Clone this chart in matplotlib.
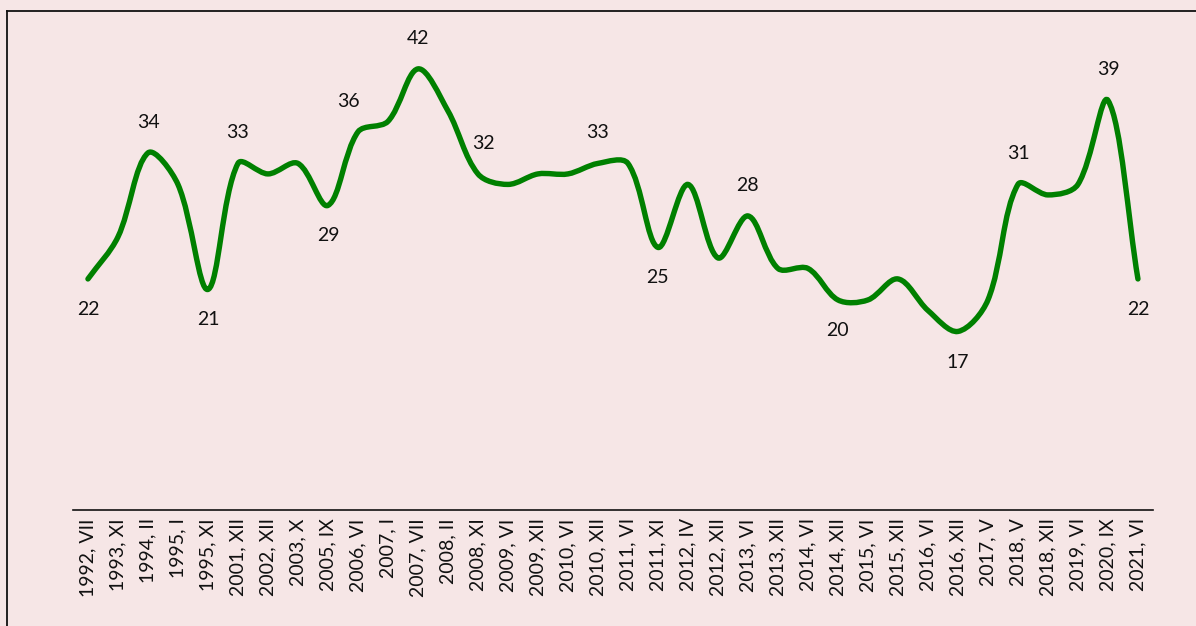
import numpy as np
import matplotlib

matplotlib.use("Agg")
import matplotlib.pyplot as plt
from matplotlib.lines import Line2D
from matplotlib.patches import PathPatch
from matplotlib.path import Path

periods = [
    "1992, VII", "1993, XI", "1994, II", "1995, I", "1995, XI", "2001, XII",
    "2002, XII", "2003, X", "2005, IX", "2006, VI", "2007, I", "2007, VII",
    "2008, II", "2008, XI", "2009, VI", "2009, XII", "2010, VI", "2010, XII",
    "2011, VI", "2011, XI", "2012, IV", "2012, XII", "2013, VI", "2013, XII",
    "2014, VI", "2014, XII", "2015, VI", "2015, XII", "2016, VI", "2016, XII",
    "2017, V", "2018, V", "2018, XII", "2019, VI", "2020, IX", "2021, VI",
]
shares = [
    22, 26, 34, 31, 21, 33, 32, 33, 29, 36, 37, 42, 38, 32, 31, 32, 32, 33,
    33, 25, 31, 24, 28, 23, 23, 20, 20, 22, 19, 17, 20, 31, 30, 31, 39, 22,
]
# points that carry a value label, and which of them sit below the line
labelled = [0, 2, 4, 5, 8, 9, 11, 13, 17, 19, 22, 25, 29, 31, 34, 35]
below = [0, 4, 8, 19, 25, 29, 35]

BG = "#F6E6E6"
GREEN = "#008000"
FONT = ["Lato", "DejaVu Sans"]


def smooth_path(ax, xs, ys) -> Path:
    # Excel-like smoothed line: cubic Bezier pieces, arms scaled by screen-space segment lengths
    pts = ax.transData.transform(np.column_stack([xs, ys]).astype(float))
    n = len(pts)
    verts = [pts[0]]
    codes = [Path.MOVETO]
    for i in range(n - 1):
        p0 = pts[max(i - 1, 0)]
        p1, p2 = pts[i], pts[i + 1]
        p3 = pts[min(i + 2, n - 1)]
        d01 = np.hypot(*(p1 - p0))
        d12 = np.hypot(*(p2 - p1))
        d23 = np.hypot(*(p3 - p2))
        f1 = d12 / (d01 + d12) / 3.0
        f2 = d12 / (d12 + d23) / 3.0
        b1 = p1 + f1 * (p2 - p0)
        b2 = p2 - f2 * (p3 - p1)
        verts += [b1, b2, p2]
        codes += [Path.CURVE4] * 3
    verts = ax.transData.inverted().transform(np.array(verts))
    return Path(verts, codes)


def main() -> None:
    fig = plt.figure(figsize=(11.96, 6.26), dpi=100, facecolor=BG)
    ax = fig.add_axes([0.061, 0.1853, 0.903, 0.755])
    ax.set_facecolor(BG)
    x = np.arange(len(periods))
    ax.set_xlim(-0.5, len(periods) - 0.5)
    ax.set_ylim(0, 45)

    ax.add_patch(PathPatch(smooth_path(ax, x, shares), facecolor="none",
                           edgecolor=GREEN, lw=3.9, capstyle="round", joinstyle="round"))

    nudge = {9: -7, 13: 4}
    for i in labelled:
        dy = -22 if i in below else 22
        ax.annotate(str(shares[i]), (x[i], shares[i]), xytext=(nudge.get(i, 0), dy),
                    textcoords="offset points", ha="center", va="center",
                    fontsize=14, family=FONT, color="#111111", annotation_clip=False)

    ax.set_xticks(x)
    ax.set_xticklabels(periods, rotation=90, fontsize=14, family=FONT, color="#111111")
    ax.tick_params(axis="x", length=0, pad=6)
    ax.set_yticks([])
    for side in ["top", "right", "left"]:
        ax.spines[side].set_visible(False)
    ax.spines["bottom"].set_color("#111111")
    ax.spines["bottom"].set_linewidth(1.2)

    # outer frame, only its top and left edges fall inside the picture
    fig.add_artist(Line2D([7 / 1196, 7 / 1196], [0, 1 - 11 / 626], color="#111111", lw=1.3,
                          transform=fig.transFigure))
    fig.add_artist(Line2D([7 / 1196, 1], [1 - 11 / 626, 1 - 11 / 626], color="#111111", lw=1.3,
                          transform=fig.transFigure))

    fig.savefig("out.png", dpi=100, facecolor=BG)
    plt.close(fig)


if __name__ == "__main__":
    main()
